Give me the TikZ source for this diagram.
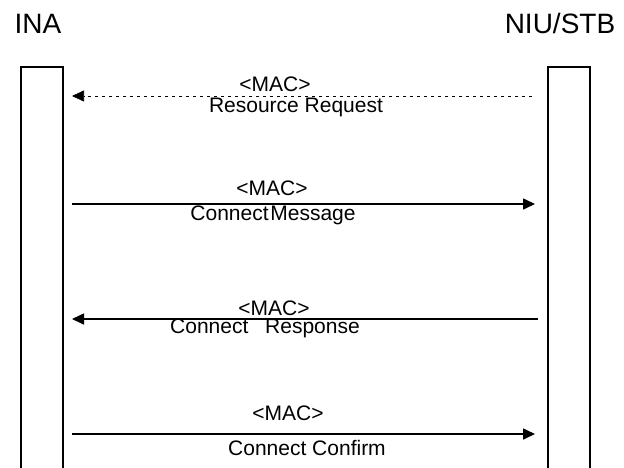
\documentclass[tikz,border=0pt]{standalone}
\usepackage{fontspec}
\setmainfont{Liberation Sans}
\usetikzlibrary{arrows.meta}
\tikzset{
  lifeline/.style={line width=1.6pt},
  msg/.style={line width=1.6pt,-{Triangle[length=12pt,width=11pt]}},
  req/.style={line width=0.7pt,dash pattern=on 3pt off 4pt,-{Triangle[length=12pt,width=11pt]}},
  mlabel/.style={anchor=base,inner sep=0pt,font=\fontsize{21}{24}\selectfont},
  party/.style={anchor=base,inner sep=0pt,font=\fontsize{28}{32}\selectfont}
}
\begin{document}
\begin{tikzpicture}[x=1pt,y=-1pt,line cap=butt,line join=miter]
    \useasboundingbox (0,0) rectangle (624,467);
    % the two parties
    \node[party] (ina) at (38,33) {INA};
    \node[party] (stb) at (560,33) {NIU/STB};
    \draw[lifeline] (21,470) -- (21,67) -- (63,67) -- (63,470);
    \draw[lifeline] (548,470) -- (548,67) -- (590,67) -- (590,470);
    % message end points
    \coordinate (ina1) at (72,96);   \coordinate (stb1) at (532,96);
    \coordinate (ina2) at (72,204);  \coordinate (stb2) at (535,204);
    \coordinate (ina3) at (72,319);  \coordinate (stb3) at (538,319);
    \coordinate (ina4) at (72,434);  \coordinate (stb4) at (535,434);
    % messages
    \draw[req] (stb1) -- (ina1);
    \node[mlabel] (mac1) at (275,91) {<MAC>};
    \node[mlabel] (rreq) at (296,112) {Resource Request};
    \draw[msg] (ina2) -- (stb2);
    \node[mlabel] (mac2) at (272,195) {<MAC>};
    \node[mlabel] (cmsg) at (273,220) {Connect\hspace{0.08em}Message};
    \draw[msg] (stb3) -- (ina3);
    \node[mlabel] (mac3) at (274,315) {<MAC>};
    \node[mlabel] (crsp) at (265,333) {Connect\hspace{0.8em}Response};
    \draw[msg] (ina4) -- (stb4);
    \node[mlabel] (mac4) at (288,420) {<MAC>};
    \node[mlabel] (ccnf) at (307,455) {Connect Confirm};
\end{tikzpicture}
\end{document}
